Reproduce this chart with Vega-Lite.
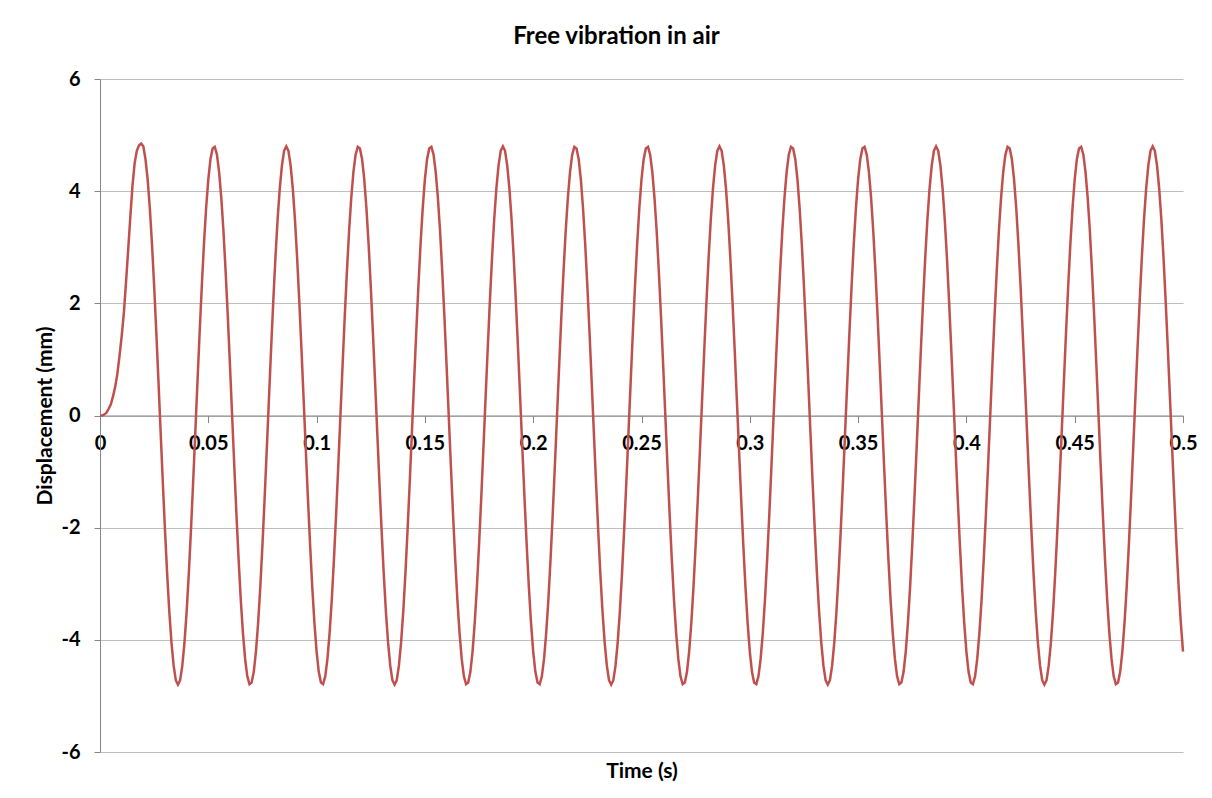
{
"$schema":"https://vega.github.io/schema/vega-lite/v6.json",
"width":1083,"height":673,
"autosize":{"type":"none"},
"padding":{"left":100,"top":79,"right":29,"bottom":46},
"background":"white",
"title":{"text":"Free vibration in air","font":"Lato","fontSize":24,"fontWeight":"bold","color":"black","anchor":"middle","dx":-25,"offset":20},
"config":{"view":{"stroke":null}},
"data":{"values":[
{"t":0,"d":0},{"t":0.001,"d":0},{"t":0.002,"d":0.02},{"t":0.003,"d":0.05},{"t":0.004,"d":0.12},{"t":0.005,"d":0.2},{"t":0.006,"d":0.34},{"t":0.007,"d":0.51},{"t":0.008,"d":0.74},{"t":0.009,"d":1.06},
{"t":0.01,"d":1.41},{"t":0.011,"d":1.82},{"t":0.012,"d":2.37},{"t":0.013,"d":2.95},{"t":0.014,"d":3.54},{"t":0.015,"d":4.1},{"t":0.016,"d":4.5},{"t":0.017,"d":4.72},{"t":0.018,"d":4.82},{"t":0.019,"d":4.85},
{"t":0.02,"d":4.8},{"t":0.021,"d":4.57},{"t":0.022,"d":4.21},{"t":0.023,"d":3.7},{"t":0.024,"d":3.06},{"t":0.025,"d":2.31},{"t":0.026,"d":1.48},{"t":0.027,"d":0.6},{"t":0.028,"d":-0.3},{"t":0.029,"d":-1.19},
{"t":0.03,"d":-2.04},{"t":0.031,"d":-2.82},{"t":0.032,"d":-3.5},{"t":0.033,"d":-4.05},{"t":0.034,"d":-4.46},{"t":0.035,"d":-4.72},{"t":0.036,"d":-4.8},{"t":0.037,"d":-4.72},{"t":0.038,"d":-4.46},{"t":0.039,"d":-4.05},
{"t":0.04,"d":-3.5},{"t":0.041,"d":-2.82},{"t":0.042,"d":-2.04},{"t":0.043,"d":-1.19},{"t":0.044,"d":-0.3},{"t":0.045,"d":0.6},{"t":0.046,"d":1.48},{"t":0.047,"d":2.31},{"t":0.048,"d":3.06},{"t":0.049,"d":3.7},
{"t":0.05,"d":4.21},{"t":0.051,"d":4.57},{"t":0.052,"d":4.76},{"t":0.053,"d":4.79},{"t":0.054,"d":4.65},{"t":0.055,"d":4.34},{"t":0.056,"d":3.88},{"t":0.057,"d":3.29},{"t":0.058,"d":2.57},{"t":0.059,"d":1.77},
{"t":0.06,"d":0.9},{"t":0.061,"d":0},{"t":0.062,"d":-0.9},{"t":0.063,"d":-1.77},{"t":0.064,"d":-2.57},{"t":0.065,"d":-3.29},{"t":0.066,"d":-3.88},{"t":0.067,"d":-4.34},{"t":0.068,"d":-4.65},{"t":0.069,"d":-4.79},
{"t":0.07,"d":-4.76},{"t":0.071,"d":-4.57},{"t":0.072,"d":-4.21},{"t":0.073,"d":-3.7},{"t":0.074,"d":-3.06},{"t":0.075,"d":-2.31},{"t":0.076,"d":-1.48},{"t":0.077,"d":-0.6},{"t":0.078,"d":0.3},{"t":0.079,"d":1.19},
{"t":0.08,"d":2.04},{"t":0.081,"d":2.82},{"t":0.082,"d":3.5},{"t":0.083,"d":4.05},{"t":0.084,"d":4.46},{"t":0.085,"d":4.72},
{"t":0.086,"d":4.8},{"t":0.087,"d":4.72},{"t":0.088,"d":4.46},{"t":0.089,"d":4.05},{"t":0.09,"d":3.5},{"t":0.091,"d":2.82},{"t":0.092,"d":2.04},{"t":0.093,"d":1.19},{"t":0.094,"d":0.3},{"t":0.095,"d":-0.6},
{"t":0.096,"d":-1.48},{"t":0.097,"d":-2.31},{"t":0.098,"d":-3.06},{"t":0.099,"d":-3.7},{"t":0.1,"d":-4.21},{"t":0.101,"d":-4.57},{"t":0.102,"d":-4.76},{"t":0.103,"d":-4.79},{"t":0.104,"d":-4.65},{"t":0.105,"d":-4.34},
{"t":0.106,"d":-3.88},{"t":0.107,"d":-3.29},{"t":0.108,"d":-2.57},{"t":0.109,"d":-1.77},{"t":0.11,"d":-0.9},{"t":0.111,"d":0},{"t":0.112,"d":0.9},{"t":0.113,"d":1.77},{"t":0.114,"d":2.57},{"t":0.115,"d":3.29},
{"t":0.116,"d":3.88},{"t":0.117,"d":4.34},{"t":0.118,"d":4.65},{"t":0.119,"d":4.79},{"t":0.12,"d":4.76},{"t":0.121,"d":4.57},{"t":0.122,"d":4.21},{"t":0.123,"d":3.7},{"t":0.124,"d":3.06},{"t":0.125,"d":2.31},
{"t":0.126,"d":1.48},{"t":0.127,"d":0.6},{"t":0.128,"d":-0.3},{"t":0.129,"d":-1.19},{"t":0.13,"d":-2.04},{"t":0.131,"d":-2.82},{"t":0.132,"d":-3.5},{"t":0.133,"d":-4.05},{"t":0.134,"d":-4.46},{"t":0.135,"d":-4.72},
{"t":0.136,"d":-4.8},{"t":0.137,"d":-4.72},{"t":0.138,"d":-4.46},{"t":0.139,"d":-4.05},{"t":0.14,"d":-3.5},{"t":0.141,"d":-2.82},{"t":0.142,"d":-2.04},{"t":0.143,"d":-1.19},{"t":0.144,"d":-0.3},{"t":0.145,"d":0.6},
{"t":0.146,"d":1.48},{"t":0.147,"d":2.31},{"t":0.148,"d":3.06},{"t":0.149,"d":3.7},{"t":0.15,"d":4.21},{"t":0.151,"d":4.57},{"t":0.152,"d":4.76},{"t":0.153,"d":4.79},{"t":0.154,"d":4.65},{"t":0.155,"d":4.34},
{"t":0.156,"d":3.88},{"t":0.157,"d":3.29},{"t":0.158,"d":2.57},{"t":0.159,"d":1.77},{"t":0.16,"d":0.9},{"t":0.161,"d":0},{"t":0.162,"d":-0.9},{"t":0.163,"d":-1.77},{"t":0.164,"d":-2.57},{"t":0.165,"d":-3.29},
{"t":0.166,"d":-3.88},{"t":0.167,"d":-4.34},{"t":0.168,"d":-4.65},{"t":0.169,"d":-4.79},{"t":0.17,"d":-4.76},{"t":0.171,"d":-4.57},{"t":0.172,"d":-4.21},{"t":0.173,"d":-3.7},{"t":0.174,"d":-3.06},{"t":0.175,"d":-2.31},
{"t":0.176,"d":-1.48},{"t":0.177,"d":-0.6},{"t":0.178,"d":0.3},{"t":0.179,"d":1.19},{"t":0.18,"d":2.04},{"t":0.181,"d":2.82},{"t":0.182,"d":3.5},{"t":0.183,"d":4.05},{"t":0.184,"d":4.46},{"t":0.185,"d":4.72},
{"t":0.186,"d":4.8},{"t":0.187,"d":4.72},{"t":0.188,"d":4.46},{"t":0.189,"d":4.05},{"t":0.19,"d":3.5},{"t":0.191,"d":2.82},{"t":0.192,"d":2.04},{"t":0.193,"d":1.19},{"t":0.194,"d":0.3},{"t":0.195,"d":-0.6},
{"t":0.196,"d":-1.48},{"t":0.197,"d":-2.31},{"t":0.198,"d":-3.06},{"t":0.199,"d":-3.7},{"t":0.2,"d":-4.21},{"t":0.201,"d":-4.57},{"t":0.202,"d":-4.76},{"t":0.203,"d":-4.79},{"t":0.204,"d":-4.65},{"t":0.205,"d":-4.34},
{"t":0.206,"d":-3.88},{"t":0.207,"d":-3.29},{"t":0.208,"d":-2.57},{"t":0.209,"d":-1.77},{"t":0.21,"d":-0.9},{"t":0.211,"d":0},{"t":0.212,"d":0.9},{"t":0.213,"d":1.77},{"t":0.214,"d":2.57},{"t":0.215,"d":3.29},
{"t":0.216,"d":3.88},{"t":0.217,"d":4.34},{"t":0.218,"d":4.65},{"t":0.219,"d":4.79},{"t":0.22,"d":4.76},{"t":0.221,"d":4.57},{"t":0.222,"d":4.21},{"t":0.223,"d":3.7},{"t":0.224,"d":3.06},{"t":0.225,"d":2.31},
{"t":0.226,"d":1.48},{"t":0.227,"d":0.6},{"t":0.228,"d":-0.3},{"t":0.229,"d":-1.19},{"t":0.23,"d":-2.04},{"t":0.231,"d":-2.82},{"t":0.232,"d":-3.5},{"t":0.233,"d":-4.05},{"t":0.234,"d":-4.46},{"t":0.235,"d":-4.72},
{"t":0.236,"d":-4.8},{"t":0.237,"d":-4.72},{"t":0.238,"d":-4.46},{"t":0.239,"d":-4.05},{"t":0.24,"d":-3.5},{"t":0.241,"d":-2.82},{"t":0.242,"d":-2.04},{"t":0.243,"d":-1.19},{"t":0.244,"d":-0.3},{"t":0.245,"d":0.6},
{"t":0.246,"d":1.48},{"t":0.247,"d":2.31},{"t":0.248,"d":3.06},{"t":0.249,"d":3.7},{"t":0.25,"d":4.21},{"t":0.251,"d":4.57},{"t":0.252,"d":4.76},{"t":0.253,"d":4.79},{"t":0.254,"d":4.65},{"t":0.255,"d":4.34},
{"t":0.256,"d":3.88},{"t":0.257,"d":3.29},{"t":0.258,"d":2.57},{"t":0.259,"d":1.77},{"t":0.26,"d":0.9},{"t":0.261,"d":0},{"t":0.262,"d":-0.9},{"t":0.263,"d":-1.77},{"t":0.264,"d":-2.57},{"t":0.265,"d":-3.29},
{"t":0.266,"d":-3.88},{"t":0.267,"d":-4.34},{"t":0.268,"d":-4.65},{"t":0.269,"d":-4.79},{"t":0.27,"d":-4.76},{"t":0.271,"d":-4.57},{"t":0.272,"d":-4.21},{"t":0.273,"d":-3.7},{"t":0.274,"d":-3.06},{"t":0.275,"d":-2.31},
{"t":0.276,"d":-1.48},{"t":0.277,"d":-0.6},{"t":0.278,"d":0.3},{"t":0.279,"d":1.19},{"t":0.28,"d":2.04},{"t":0.281,"d":2.82},{"t":0.282,"d":3.5},{"t":0.283,"d":4.05},{"t":0.284,"d":4.46},{"t":0.285,"d":4.72},
{"t":0.286,"d":4.8},{"t":0.287,"d":4.72},{"t":0.288,"d":4.46},{"t":0.289,"d":4.05},{"t":0.29,"d":3.5},{"t":0.291,"d":2.82},{"t":0.292,"d":2.04},{"t":0.293,"d":1.19},{"t":0.294,"d":0.3},{"t":0.295,"d":-0.6},
{"t":0.296,"d":-1.48},{"t":0.297,"d":-2.31},{"t":0.298,"d":-3.06},{"t":0.299,"d":-3.7},{"t":0.3,"d":-4.21},{"t":0.301,"d":-4.57},{"t":0.302,"d":-4.76},{"t":0.303,"d":-4.79},{"t":0.304,"d":-4.65},{"t":0.305,"d":-4.34},
{"t":0.306,"d":-3.88},{"t":0.307,"d":-3.29},{"t":0.308,"d":-2.57},{"t":0.309,"d":-1.77},{"t":0.31,"d":-0.9},{"t":0.311,"d":0},{"t":0.312,"d":0.9},{"t":0.313,"d":1.77},{"t":0.314,"d":2.57},{"t":0.315,"d":3.29},
{"t":0.316,"d":3.88},{"t":0.317,"d":4.34},{"t":0.318,"d":4.65},{"t":0.319,"d":4.79},{"t":0.32,"d":4.76},{"t":0.321,"d":4.57},{"t":0.322,"d":4.21},{"t":0.323,"d":3.7},{"t":0.324,"d":3.06},{"t":0.325,"d":2.31},
{"t":0.326,"d":1.48},{"t":0.327,"d":0.6},{"t":0.328,"d":-0.3},{"t":0.329,"d":-1.19},{"t":0.33,"d":-2.04},{"t":0.331,"d":-2.82},{"t":0.332,"d":-3.5},{"t":0.333,"d":-4.05},{"t":0.334,"d":-4.46},{"t":0.335,"d":-4.72},
{"t":0.336,"d":-4.8},{"t":0.337,"d":-4.72},{"t":0.338,"d":-4.46},{"t":0.339,"d":-4.05},{"t":0.34,"d":-3.5},{"t":0.341,"d":-2.82},{"t":0.342,"d":-2.04},{"t":0.343,"d":-1.19},{"t":0.344,"d":-0.3},{"t":0.345,"d":0.6},
{"t":0.346,"d":1.48},{"t":0.347,"d":2.31},{"t":0.348,"d":3.06},{"t":0.349,"d":3.7},{"t":0.35,"d":4.21},{"t":0.351,"d":4.57},{"t":0.352,"d":4.76},{"t":0.353,"d":4.79},{"t":0.354,"d":4.65},{"t":0.355,"d":4.34},
{"t":0.356,"d":3.88},{"t":0.357,"d":3.29},{"t":0.358,"d":2.57},{"t":0.359,"d":1.77},{"t":0.36,"d":0.9},{"t":0.361,"d":0},{"t":0.362,"d":-0.9},{"t":0.363,"d":-1.77},{"t":0.364,"d":-2.57},{"t":0.365,"d":-3.29},
{"t":0.366,"d":-3.88},{"t":0.367,"d":-4.34},{"t":0.368,"d":-4.65},{"t":0.369,"d":-4.79},{"t":0.37,"d":-4.76},{"t":0.371,"d":-4.57},{"t":0.372,"d":-4.21},{"t":0.373,"d":-3.7},{"t":0.374,"d":-3.06},{"t":0.375,"d":-2.31},
{"t":0.376,"d":-1.48},{"t":0.377,"d":-0.6},{"t":0.378,"d":0.3},{"t":0.379,"d":1.19},{"t":0.38,"d":2.04},{"t":0.381,"d":2.82},{"t":0.382,"d":3.5},{"t":0.383,"d":4.05},{"t":0.384,"d":4.46},{"t":0.385,"d":4.72},
{"t":0.386,"d":4.8},{"t":0.387,"d":4.72},{"t":0.388,"d":4.46},{"t":0.389,"d":4.05},{"t":0.39,"d":3.5},{"t":0.391,"d":2.82},{"t":0.392,"d":2.04},{"t":0.393,"d":1.19},{"t":0.394,"d":0.3},{"t":0.395,"d":-0.6},
{"t":0.396,"d":-1.48},{"t":0.397,"d":-2.31},{"t":0.398,"d":-3.06},{"t":0.399,"d":-3.7},{"t":0.4,"d":-4.21},{"t":0.401,"d":-4.57},{"t":0.402,"d":-4.76},{"t":0.403,"d":-4.79},{"t":0.404,"d":-4.65},{"t":0.405,"d":-4.34},
{"t":0.406,"d":-3.88},{"t":0.407,"d":-3.29},{"t":0.408,"d":-2.57},{"t":0.409,"d":-1.77},{"t":0.41,"d":-0.9},{"t":0.411,"d":0},{"t":0.412,"d":0.9},{"t":0.413,"d":1.77},{"t":0.414,"d":2.57},{"t":0.415,"d":3.29},
{"t":0.416,"d":3.88},{"t":0.417,"d":4.34},{"t":0.418,"d":4.65},{"t":0.419,"d":4.79},{"t":0.42,"d":4.76},{"t":0.421,"d":4.57},{"t":0.422,"d":4.21},{"t":0.423,"d":3.7},{"t":0.424,"d":3.06},{"t":0.425,"d":2.31},
{"t":0.426,"d":1.48},{"t":0.427,"d":0.6},{"t":0.428,"d":-0.3},{"t":0.429,"d":-1.19},{"t":0.43,"d":-2.04},{"t":0.431,"d":-2.82},{"t":0.432,"d":-3.5},{"t":0.433,"d":-4.05},{"t":0.434,"d":-4.46},{"t":0.435,"d":-4.72},
{"t":0.436,"d":-4.8},{"t":0.437,"d":-4.72},{"t":0.438,"d":-4.46},{"t":0.439,"d":-4.05},{"t":0.44,"d":-3.5},{"t":0.441,"d":-2.82},{"t":0.442,"d":-2.04},{"t":0.443,"d":-1.19},{"t":0.444,"d":-0.3},{"t":0.445,"d":0.6},
{"t":0.446,"d":1.48},{"t":0.447,"d":2.31},{"t":0.448,"d":3.06},{"t":0.449,"d":3.7},{"t":0.45,"d":4.21},{"t":0.451,"d":4.57},{"t":0.452,"d":4.76},{"t":0.453,"d":4.79},{"t":0.454,"d":4.65},{"t":0.455,"d":4.34},
{"t":0.456,"d":3.88},{"t":0.457,"d":3.29},{"t":0.458,"d":2.57},{"t":0.459,"d":1.77},{"t":0.46,"d":0.9},{"t":0.461,"d":0},{"t":0.462,"d":-0.9},{"t":0.463,"d":-1.77},{"t":0.464,"d":-2.57},{"t":0.465,"d":-3.29},
{"t":0.466,"d":-3.88},{"t":0.467,"d":-4.34},{"t":0.468,"d":-4.65},{"t":0.469,"d":-4.79},{"t":0.47,"d":-4.76},{"t":0.471,"d":-4.57},{"t":0.472,"d":-4.21},{"t":0.473,"d":-3.7},{"t":0.474,"d":-3.06},{"t":0.475,"d":-2.31},
{"t":0.476,"d":-1.48},{"t":0.477,"d":-0.6},{"t":0.478,"d":0.3},{"t":0.479,"d":1.19},{"t":0.48,"d":2.04},{"t":0.481,"d":2.82},{"t":0.482,"d":3.5},{"t":0.483,"d":4.05},{"t":0.484,"d":4.46},{"t":0.485,"d":4.72},
{"t":0.486,"d":4.8},{"t":0.487,"d":4.72},{"t":0.488,"d":4.46},{"t":0.489,"d":4.05},{"t":0.49,"d":3.5},{"t":0.491,"d":2.82},{"t":0.492,"d":2.04},{"t":0.493,"d":1.19},{"t":0.494,"d":0.3},{"t":0.495,"d":-0.6},
{"t":0.496,"d":-1.48},{"t":0.497,"d":-2.31},{"t":0.498,"d":-3.06},{"t":0.499,"d":-3.7},{"t":0.5,"d":-4.21}
]},
"mark":{"type":"line","color":"#C0504D","strokeWidth":2.5,"clip":false},
"encoding":{
"x":{"field":"t","type":"quantitative","scale":{"domain":[0,0.5],"nice":false,"zero":false},
"axis":{"values":[0,0.05,0.1,0.15,0.2,0.25,0.3,0.35,0.4,0.45,0.5],"format":"~g","grid":false,"offset":-336.5,
"domainColor":"#868686","domainWidth":1,"tickColor":"#868686","tickSize":7,"labelFont":"Lato","labelFontSize":20,"labelFontWeight":"bold","labelColor":"black","labelPadding":11,"labelFlush":false,"labelOverlap":false,
"title":"Time (s)","titleFont":"Lato","titleFontSize":21,"titleFontWeight":"bold","titleColor":"black","titleY":356,"titleBaseline":"middle"}},
"y":{"field":"d","type":"quantitative","scale":{"domain":[-6,6],"nice":false,"zero":false},
"axis":{"values":[-6,-4,-2,0,2,4,6],"labelExpr":"replace(datum.label, '\u2212', '-')","grid":true,"gridColor":"#BFBFBF","gridWidth":1,
"domainColor":"#868686","domainWidth":1,"tickColor":"#868686","tickSize":6,"labelFont":"Lato","labelFontSize":20,"labelFontWeight":"bold","labelColor":"black","labelPadding":14,
"title":"Displacement (mm)","titleFont":"Lato","titleFontSize":21,"titleFontWeight":"bold","titleColor":"black","titleX":-55,"titleBaseline":"middle"}}
}
}
